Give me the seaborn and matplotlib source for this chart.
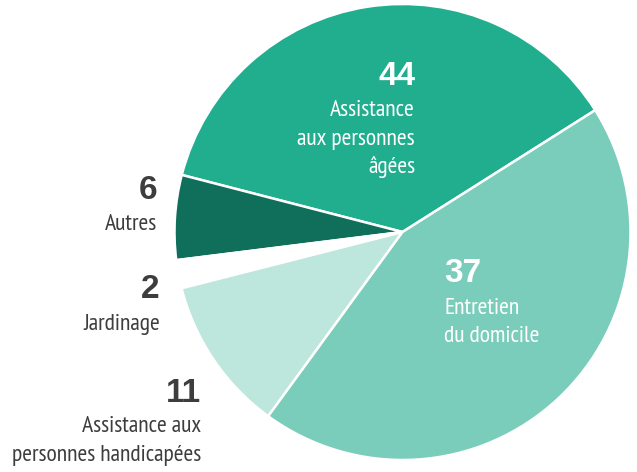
import matplotlib
matplotlib.use("Agg")
import matplotlib.pyplot as plt
import seaborn as sns

# slice order, counter-clockwise from the upper-right boundary
categories = ["Assistance aux personnes âgées", "Autres", "Jardinage",
              "Assistance aux personnes handicapées", "Entretien du domicile"]
slice_sizes = [37, 6, 2, 11, 44]
shown_numbers = ["44", "6", "2", "11", "37"]
label_lines = [["Assistance", "aux personnes", "âgées"], ["Autres"], ["Jardinage"],
               ["Assistance aux", "personnes handicapées"], ["Entretien", "du domicile"]]
colors = ["#21AE8F", "#0F6F5B", "#FFFFFF", "#BDE6DD", "#7BCDBB"]

sns.set_theme(style="white")
plt.rcParams["font.family"] = ["PT Sans Narrow", "DejaVu Sans"]

W, H = 637, 472
fig = plt.figure(figsize=(W / 100, H / 100), dpi=100)
cx, cy, r = 402.5, 232, 228
ax = fig.add_axes([(cx - r) / W, (H - cy - r) / H, 2 * r / W, 2 * r / H])
ax.pie(slice_sizes, colors=colors, startangle=32.3, counterclock=True,
       wedgeprops=dict(edgecolor="white", linewidth=1.8), radius=1)
ax.set_xlim(-1, 1)
ax.set_ylim(-1, 1)
ax.set_aspect("equal")
ax.axis("off")

# label anchors: (x, number baseline, first text baseline, align, color)
anchors = [
    (415, 85, 116, "right", "white"),
    (157, 199, 230, "right", "#3d3d3d"),
    (160, 298, 330, "right", "#3d3d3d"),
    (201, 402, 432, "right", "#3d3d3d"),
    (444, 282, 314, "left", "white"),
]
step = 28.5
for num, lines, (x, nb, tb, ha, col) in zip(shown_numbers, label_lines, anchors):
    fig.text(x / W, 1 - nb / H, num, ha=ha, va="baseline", color=col,
             fontsize=24, fontweight="bold", family=["Liberation Sans", "DejaVu Sans"])
    for i, line in enumerate(lines):
        fig.text(x / W, 1 - (tb + i * step) / H, line, ha=ha, va="baseline",
                 color=col, fontsize=17)

fig.savefig("out.png", dpi=100)
